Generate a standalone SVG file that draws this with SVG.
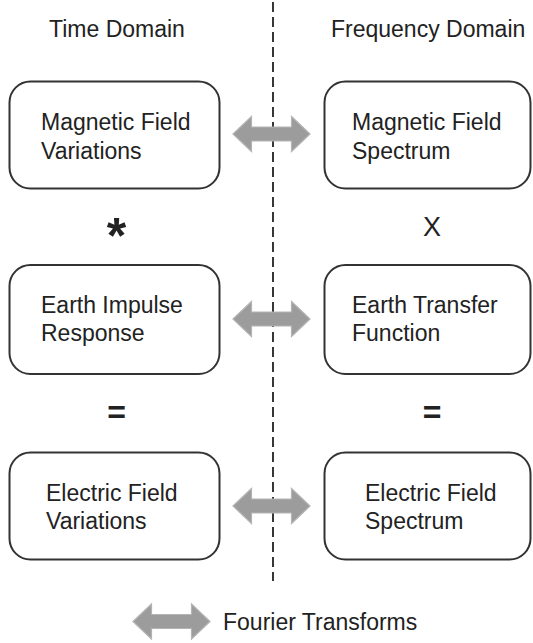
<svg xmlns="http://www.w3.org/2000/svg" width="533" height="643" viewBox="0 0 533 643">
<style>
text{font-family:"Liberation Sans",Arial,sans-serif;fill:#222}
.t{font-size:23px}
.box{fill:#fff;stroke:#333;stroke-width:2}
.arr{fill:#9c9c9c;stroke:#b4b4b4;stroke-width:1.2}
.sym{font-weight:bold}
</style>
<defs>
<path id="dbl" d="M-38.5 0 L-20 -17.5 L-20 -7 L20 -7 L20 -17.5 L38.5 0 L20 17.5 L20 7 L-20 7 L-20 17.5 Z"/>
</defs>
<rect width="533" height="643" fill="#fff"/>
<g id="headers">
<text class="t" x="49" y="37">Time Domain</text>
<text class="t" x="331" y="37">Frequency Domain</text>
</g>
<g id="connectors">
<line x1="273" y1="2" x2="273" y2="581" stroke="#222" stroke-width="1.8" stroke-dasharray="10,5"/>
<use href="#dbl" class="arr" x="271.5" y="134"/>
<use href="#dbl" class="arr" x="271.5" y="319"/>
<use href="#dbl" class="arr" x="271.5" y="506"/>
</g>
<g id="mag-var">
<rect class="box" x="9.5" y="81.5" width="210" height="107" rx="21"/>
<text class="t" x="41" y="130">Magnetic Field</text>
<text class="t" x="41" y="159">Variations</text>
</g>
<g id="mag-spec">
<rect class="box" x="324.5" y="81.5" width="206" height="107" rx="21"/>
<text class="t" x="352" y="130">Magnetic Field</text>
<text class="t" x="352" y="159">Spectrum</text>
</g>
<g id="earth-imp">
<rect class="box" x="9.5" y="265" width="210" height="109" rx="21"/>
<text class="t" x="41" y="313">Earth Impulse</text>
<text class="t" x="41" y="341">Response</text>
</g>
<g id="earth-tf">
<rect class="box" x="324.5" y="265" width="206" height="109" rx="21"/>
<text class="t" x="352" y="313">Earth Transfer</text>
<text class="t" x="352" y="341">Function</text>
</g>
<g id="elec-var">
<rect class="box" x="9.5" y="452.5" width="210" height="107" rx="21"/>
<text class="t" x="46" y="501">Electric Field</text>
<text class="t" x="46" y="529">Variations</text>
</g>
<g id="elec-spec">
<rect class="box" x="324.5" y="452.5" width="206" height="107" rx="21"/>
<text class="t" x="365" y="501">Electric Field</text>
<text class="t" x="365" y="529">Spectrum</text>
</g>
<g id="operators">
<text class="sym" x="116.5" y="253" font-size="50" text-anchor="middle">*</text>
<text x="432" y="236" font-size="27" text-anchor="middle">X</text>
<text class="sym" x="116.5" y="423" font-size="32" text-anchor="middle">=</text>
<text class="sym" x="432" y="423" font-size="32" text-anchor="middle">=</text>
</g>
<g id="legend">
<use href="#dbl" class="arr" x="171.5" y="621.5"/>
<text class="t" x="223" y="630">Fourier Transforms</text>
</g>
</svg>
